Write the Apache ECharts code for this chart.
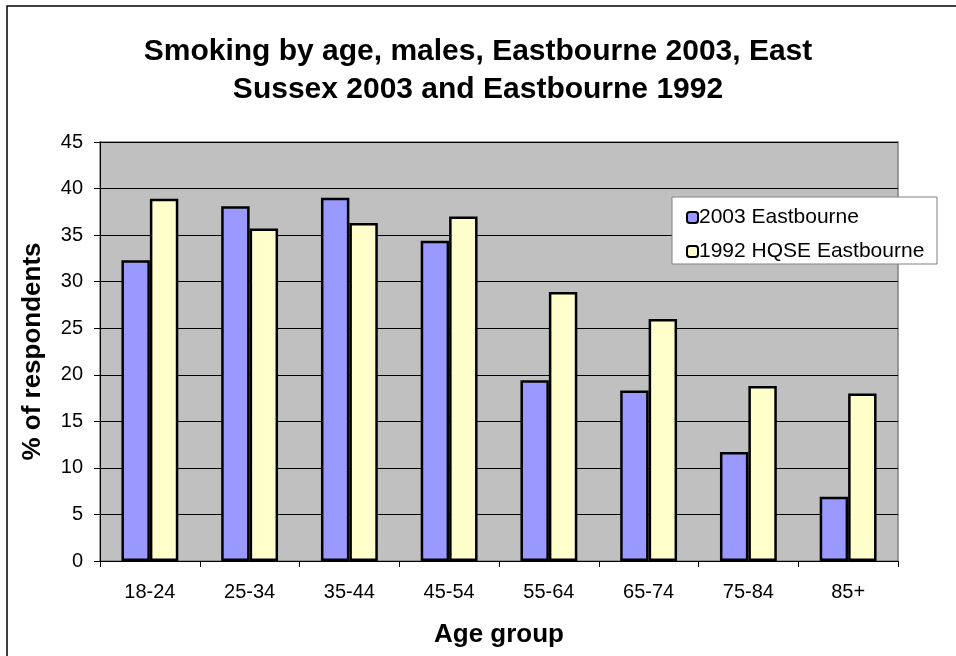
<!DOCTYPE html>
<html>
<head>
<meta charset="utf-8">
<script src="https://cdn.jsdelivr.net/npm/echarts@6/dist/echarts.min.js"></script>
<style>
  html, body { margin: 0; padding: 0; background: #ffffff; }
  #chart { width: 956px; height: 656px; }
</style>
</head>
<body>
<div id="chart"></div>
<script>
// Age bands on the x axis
var ageGroups = ['18-24', '25-34', '35-44', '45-54', '55-64', '65-74', '75-84', '85+'];

// Percentage of male respondents who smoke
var eastbourne2003 = [32.3, 38.1, 39.0, 34.4, 19.4, 18.3, 11.7, 6.9];
var hqseEastbourne1992 = [38.9, 35.7, 36.3, 37.0, 28.9, 26.0, 18.8, 18.0];

var seriesNames = ['2003 Eastbourne', '1992 HQSE Eastbourne'];
var titleLines = ['Smoking by age, males, Eastbourne 2003, East', 'Sussex 2003 and Eastbourne 1992'];

var FONT = '"Liberation Sans", Arial, sans-serif';

var chart = echarts.init(document.getElementById('chart'), null, { renderer: 'canvas' });

chart.setOption({
  backgroundColor: '#ffffff',
  animation: false,
  title: {
    text: titleLines.join('\n'),
    left: 'center',
    top: 28,
    textStyle: {
      fontFamily: FONT,
      fontWeight: 'bold',
      fontSize: 30,
      lineHeight: 38,
      color: '#000000'
    }
  },
  graphic: [
    {
      type: 'rect',
      shape: { x: 7, y: 6, width: 960, height: 660 },
      style: { fill: 'none', stroke: '#000000', lineWidth: 1.5 },
      silent: true,
      z: 0
    },
    {
      type: 'rect',
      shape: { x: 672, y: 197, width: 265, height: 67 },
      style: { fill: '#ffffff', stroke: '#808080', lineWidth: 1 },
      silent: true,
      z: 5
    }
  ],
  legend: {
    orient: 'vertical',
    left: 681,
    top: 202,
    itemWidth: 11,
    itemHeight: 11,
    itemGap: 13,
    z: 10,
    textStyle: { fontFamily: FONT, fontSize: 21, lineHeight: 21, color: '#000000', padding: [0, 0, 0, -4] },
    data: seriesNames
  },
  grid: {
    left: 100,
    right: 58,
    top: 142,
    bottom: 95,
    show: true,
    backgroundColor: '#c0c0c0',
    borderColor: '#808080',
    borderWidth: 1.5
  },
  xAxis: {
    type: 'category',
    data: ageGroups,
    name: 'Age group',
    nameLocation: 'middle',
    nameGap: 61,
    nameTextStyle: { fontFamily: FONT, fontWeight: 'bold', fontSize: 26, color: '#000000' },
    axisLine: { lineStyle: { color: '#000000', width: 1 } },
    axisTick: { show: true, length: 6, lineStyle: { color: '#000000' } },
    axisLabel: { fontFamily: FONT, fontSize: 20, color: '#000000', margin: 21 }
  },
  yAxis: {
    type: 'value',
    min: 0,
    max: 45,
    interval: 5,
    name: '% of respondents',
    nameLocation: 'middle',
    nameGap: 54,
    nameTextStyle: { fontFamily: FONT, fontWeight: 'bold', fontSize: 26, color: '#000000' },
    axisLine: { show: true, lineStyle: { color: '#000000', width: 1 } },
    axisTick: { show: true, length: 6, lineStyle: { color: '#000000' } },
    axisLabel: { fontFamily: FONT, fontSize: 20, color: '#000000', margin: 17 },
    splitLine: { show: true, lineStyle: { color: '#000000', width: 1 } }
  },
  series: [
    {
      name: seriesNames[0],
      type: 'bar',
      data: eastbourne2003,
      barGap: '0%',
      barCategoryGap: '43%',
      itemStyle: { color: '#9999ff', borderColor: '#000000', borderWidth: 2.5 }
    },
    {
      name: seriesNames[1],
      type: 'bar',
      data: hqseEastbourne1992,
      barGap: '0%',
      barCategoryGap: '43%',
      itemStyle: { color: '#ffffcc', borderColor: '#000000', borderWidth: 2.5 }
    }
  ]
});
</script>
</body>
</html>
